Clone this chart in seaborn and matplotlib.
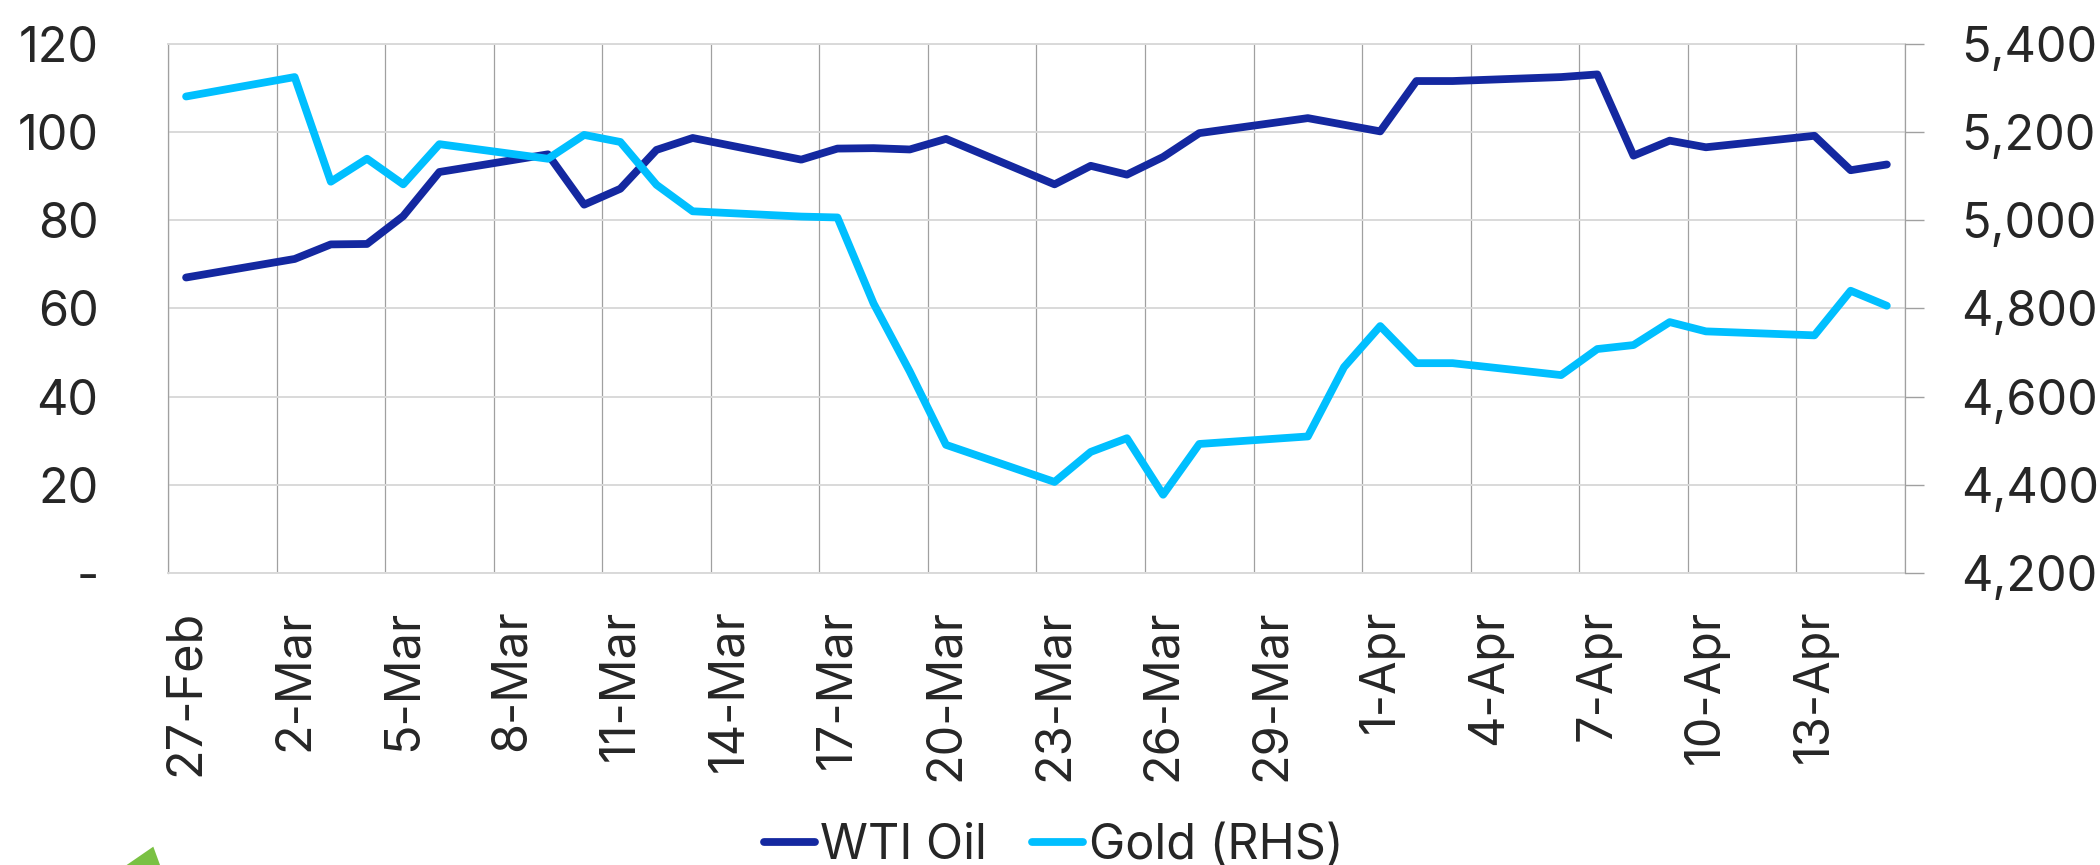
import pandas as pd
import matplotlib.pyplot as plt
import matplotlib.ticker as mticker
from matplotlib.lines import Line2D
from matplotlib.patches import Polygon
import seaborn as sns

# Trading days (2026)
DATES = ['2026-02-27', '2026-03-02', '2026-03-03', '2026-03-04', '2026-03-05', '2026-03-06',
         '2026-03-09', '2026-03-10', '2026-03-11', '2026-03-12', '2026-03-13',
         '2026-03-16', '2026-03-17', '2026-03-18', '2026-03-19', '2026-03-20',
         '2026-03-23', '2026-03-24', '2026-03-25', '2026-03-26', '2026-03-27',
         '2026-03-30', '2026-03-31', '2026-04-01', '2026-04-02', '2026-04-03',
         '2026-04-06', '2026-04-07', '2026-04-08', '2026-04-09', '2026-04-10',
         '2026-04-13', '2026-04-14', '2026-04-15']

WTI_OIL = [67.0, 71.2, 74.5, 74.6, 80.9, 90.9,
           94.9, 83.5, 87.1, 95.9, 98.6,
           93.7, 96.2, 96.3, 96.0, 98.4,
           88.1, 92.3, 90.3, 94.3, 99.7,
           103.1, 101.6, 100.1, 111.5, 111.5,
           112.4, 113.0, 94.6, 98.0, 96.5,
           99.1, 91.3, 92.6]

GOLD = [5280, 5324, 5087, 5139, 5081, 5172,
        5139, 5193, 5177, 5080, 5020,
        5008, 5006, 4811, 4657, 4491,
        4407, 4475, 4506, 4378, 4493,
        4510, 4667, 4760, 4676, 4676,
        4649, 4708, 4717, 4769, 4748,
        4739, 4840, 4806]

AXIS_START = '2026-02-27'
AXIS_END = '2026-04-16'
OIL_TICKS = [0, 20, 40, 60, 80, 100, 120]
GOLD_TICKS = [4200, 4400, 4600, 4800, 5000, 5200, 5400]
SERIES_NAMES = ['WTI Oil', 'Gold (RHS)']

OIL_COLOR = '#1428a0'
GOLD_COLOR = '#00bfff'
LIGHT_GRID = '#d9d9d9'
DARK_GRID = '#a0a0a0'
FS = 35
LW = 5.6

df = pd.DataFrame({
    'Date': pd.to_datetime(DATES) + pd.Timedelta(hours=12),
    'WTI Oil': WTI_OIL,
    'Gold': GOLD,
})

sns.set_style('white')
plt.rcParams['font.family'] = ['Inter', 'DejaVu Sans']

fig, ax = plt.subplots(figsize=(21, 8.65), dpi=100)
fig.subplots_adjust(left=0.08, right=0.9071, bottom=0.3372, top=0.9497)
ax2 = ax.twinx()

sns.lineplot(data=df, x='Date', y='WTI Oil', ax=ax, color=OIL_COLOR, lw=LW,
             estimator=None, solid_capstyle='round', solid_joinstyle='round')
sns.lineplot(data=df, x='Date', y='Gold', ax=ax2, color=GOLD_COLOR, lw=LW,
             estimator=None, solid_capstyle='round', solid_joinstyle='round')

# x axis: gridlines / ticks on day boundaries, labels at mid-day
start, end = pd.Timestamp(AXIS_START), pd.Timestamp(AXIS_END)
ax.set_xlim(start, end)
major = pd.date_range(start, end, freq='3D')
ax.set_xticks(major)
ax.xaxis.set_major_formatter(mticker.NullFormatter())
minor = major[:-1] + pd.Timedelta(hours=12)
ax.set_xticks(minor, labels=[f'{d.day}-{d:%b}' for d in minor], minor=True)
ax.tick_params(axis='x', which='major', length=13, width=1.2, color=LIGHT_GRID, direction='out')
ax.tick_params(axis='x', which='minor', length=0, pad=26, labelsize=FS, labelrotation=90)
ax.grid(axis='x', which='major', color=DARK_GRID, lw=0.9)

# left axis
ax.set_ylim(0, 120)
ax.set_yticks(OIL_TICKS)
ax.yaxis.set_major_formatter(mticker.FuncFormatter(lambda v, p: '-' if v == 0 else f'{v:.0f}'))
ax.tick_params(axis='y', length=0, pad=50, labelsize=FS)
ax.grid(axis='y', color=LIGHT_GRID, lw=1.4)
ax.set_axisbelow(True)

# right axis
ax2.set_ylim(4200, 5400)
ax2.set_yticks(GOLD_TICKS)
ax2.yaxis.set_major_formatter(mticker.FuncFormatter(lambda v, p: f'{v:,.0f}'))
ax2.tick_params(axis='y', length=13.7, width=1, color=DARK_GRID, pad=27, labelsize=FS)
ax2.grid(False)

for a in (ax, ax2):
    a.set_xlabel('')
    a.set_ylabel('')
ax.spines['left'].set_color(DARK_GRID)
ax.spines['left'].set_linewidth(0.9)
for s in ('top', 'bottom'):
    ax.spines[s].set_color(LIGHT_GRID)
    ax.spines[s].set_linewidth(1.4)
ax.spines['right'].set_visible(False)
for s in ('left', 'top', 'bottom'):
    ax2.spines[s].set_visible(False)
ax2.spines['right'].set_color(DARK_GRID)
ax2.spines['right'].set_linewidth(0.9)

handles = [Line2D([], [], color=OIL_COLOR, lw=LW, solid_capstyle='round'),
           Line2D([], [], color=GOLD_COLOR, lw=LW, solid_capstyle='round')]
fig.legend(handles, SERIES_NAMES, loc='center', bbox_to_anchor=(0.5017, 0.022), ncol=2,
           frameon=False, fontsize=FS, handlelength=1.05, handletextpad=0.12,
           columnspacing=0.92, borderpad=0, borderaxespad=0)

# corner of a logo peeking in at the bottom left
fig.add_artist(Polygon([[0.0603, 0], [0.0762, 0], [0.0730, 0.0212]], closed=True,
                       transform=fig.transFigure, color='#7ac143', lw=0))

fig.savefig('out.png', dpi=100)
